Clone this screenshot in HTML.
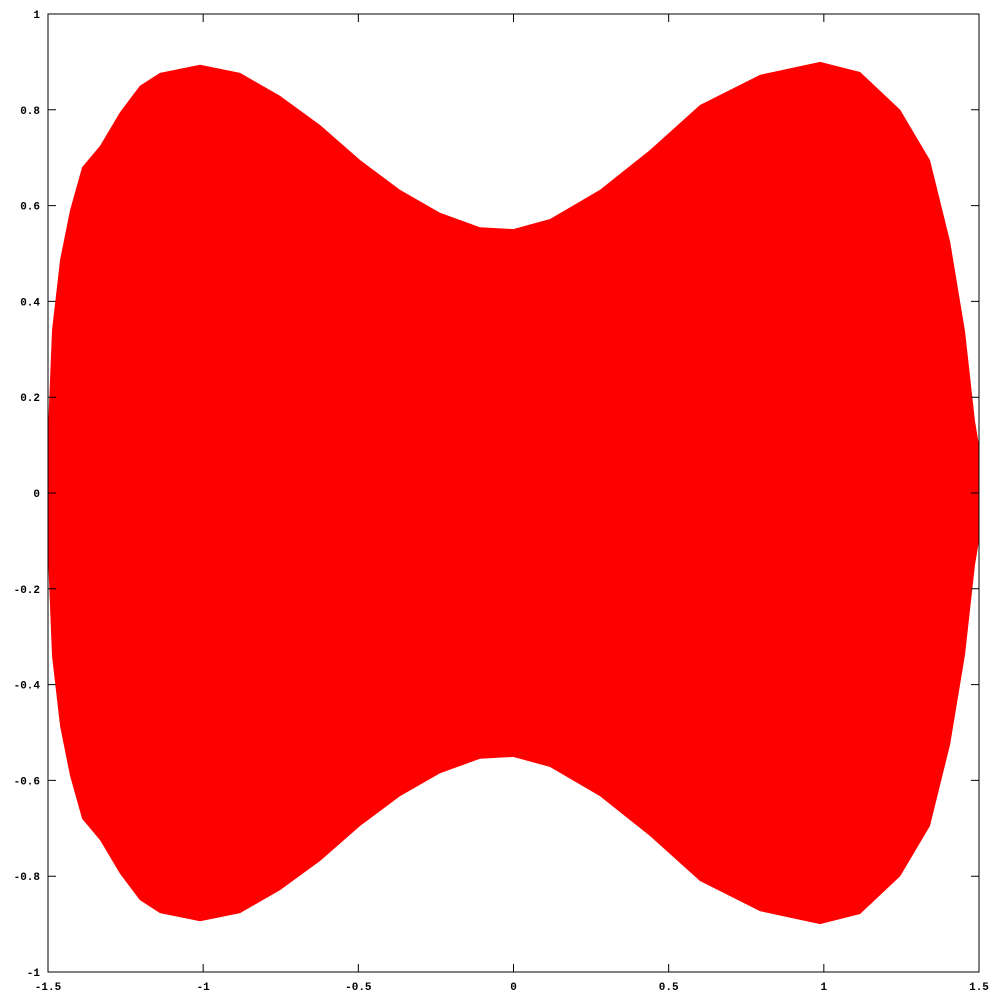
<!DOCTYPE html>
<html><head><meta charset="utf-8"><style>
html,body{margin:0;padding:0;background:#fff;}
svg text{font-family:"Liberation Mono",monospace;font-size:11px;font-weight:bold;fill:#000;}
</style></head><body>
<svg id="chart" width="1000" height="1000" xmlns="http://www.w3.org/2000/svg">
<g id="area"></g>
<rect x="48" y="14" width="931" height="958" fill="none" stroke="#000" stroke-width="1"/>
<g id="ticks"></g>
</svg>
<script>
const xs = [-1.5,-1.487,-1.461,-1.429,-1.39,-1.332,-1.268,-1.204,-1.139,-1.01,-0.881,-0.752,-0.623,-0.494,-0.366,-0.237,-0.108,-0.001,0.118,0.279,0.44,0.601,0.795,0.988,1.117,1.246,1.342,1.407,1.455,1.487,1.5];
const upper = [0.13,0.34,0.487,0.59,0.68,0.725,0.795,0.85,0.877,0.894,0.877,0.829,0.768,0.695,0.633,0.585,0.555,0.551,0.572,0.633,0.716,0.81,0.873,0.9,0.879,0.80,0.695,0.525,0.338,0.15,0.1];
const lower = upper.map(v => -v);
const xTicks = [-1.5,-1,-0.5,0,0.5,1,1.5];
const xTickLabels = ["-1.5","-1","-0.5","0","0.5","1","1.5"];
const yTicks = [-1,-0.8,-0.6,-0.4,-0.2,0,0.2,0.4,0.6,0.8,1];
const yTickLabels = ["-1","-0.8","-0.6","-0.4","-0.2","0","0.2","0.4","0.6","0.8","1"];

const L=48,R=979,T=14,B=972;
const sx = v => L + (v + 1.5) / 3 * (R - L);
const sy = v => B - (v + 1) / 2 * (B - T);
const NS="http://www.w3.org/2000/svg";

let d = "M" + xs.map((x,i)=>sx(x).toFixed(1)+","+sy(upper[i]).toFixed(1)).join(" L");
for (let i = xs.length-1; i >= 0; i--) d += " L" + sx(xs[i]).toFixed(1) + "," + sy(lower[i]).toFixed(1);
d += " Z";
const p = document.createElementNS(NS,"path");


p.setAttribute("d", d); p.setAttribute("fill", "#ff0000");
document.getElementById("area").appendChild(p);

const g = document.getElementById("ticks");
xTicks.forEach((v,i)=>{
  const x = sx(v);
  const l = document.createElementNS(NS,"path");
  
  
  l.setAttribute("d", `M${x},${B} v-8 M${x},${T} v8`); l.setAttribute("stroke","#000");
  g.appendChild(l);
  const t = document.createElementNS(NS,"text");
  
  
  t.setAttribute("x", x); t.setAttribute("y", B+18); t.setAttribute("text-anchor","middle");
  t.textContent = xTickLabels[i]; g.appendChild(t);
});
yTicks.forEach((v,i)=>{
  const y = sy(v);
  const l = document.createElementNS(NS,"path");
  
  
  l.setAttribute("d", `M${L},${y} h8 M${R},${y} h-8`); l.setAttribute("stroke","#000");
  g.appendChild(l);
  const t = document.createElementNS(NS,"text");
  
  
  t.setAttribute("x", L-8); t.setAttribute("y", y+4); t.setAttribute("text-anchor","end");
  t.textContent = yTickLabels[i]; g.appendChild(t);
});
</script>
</body></html>
